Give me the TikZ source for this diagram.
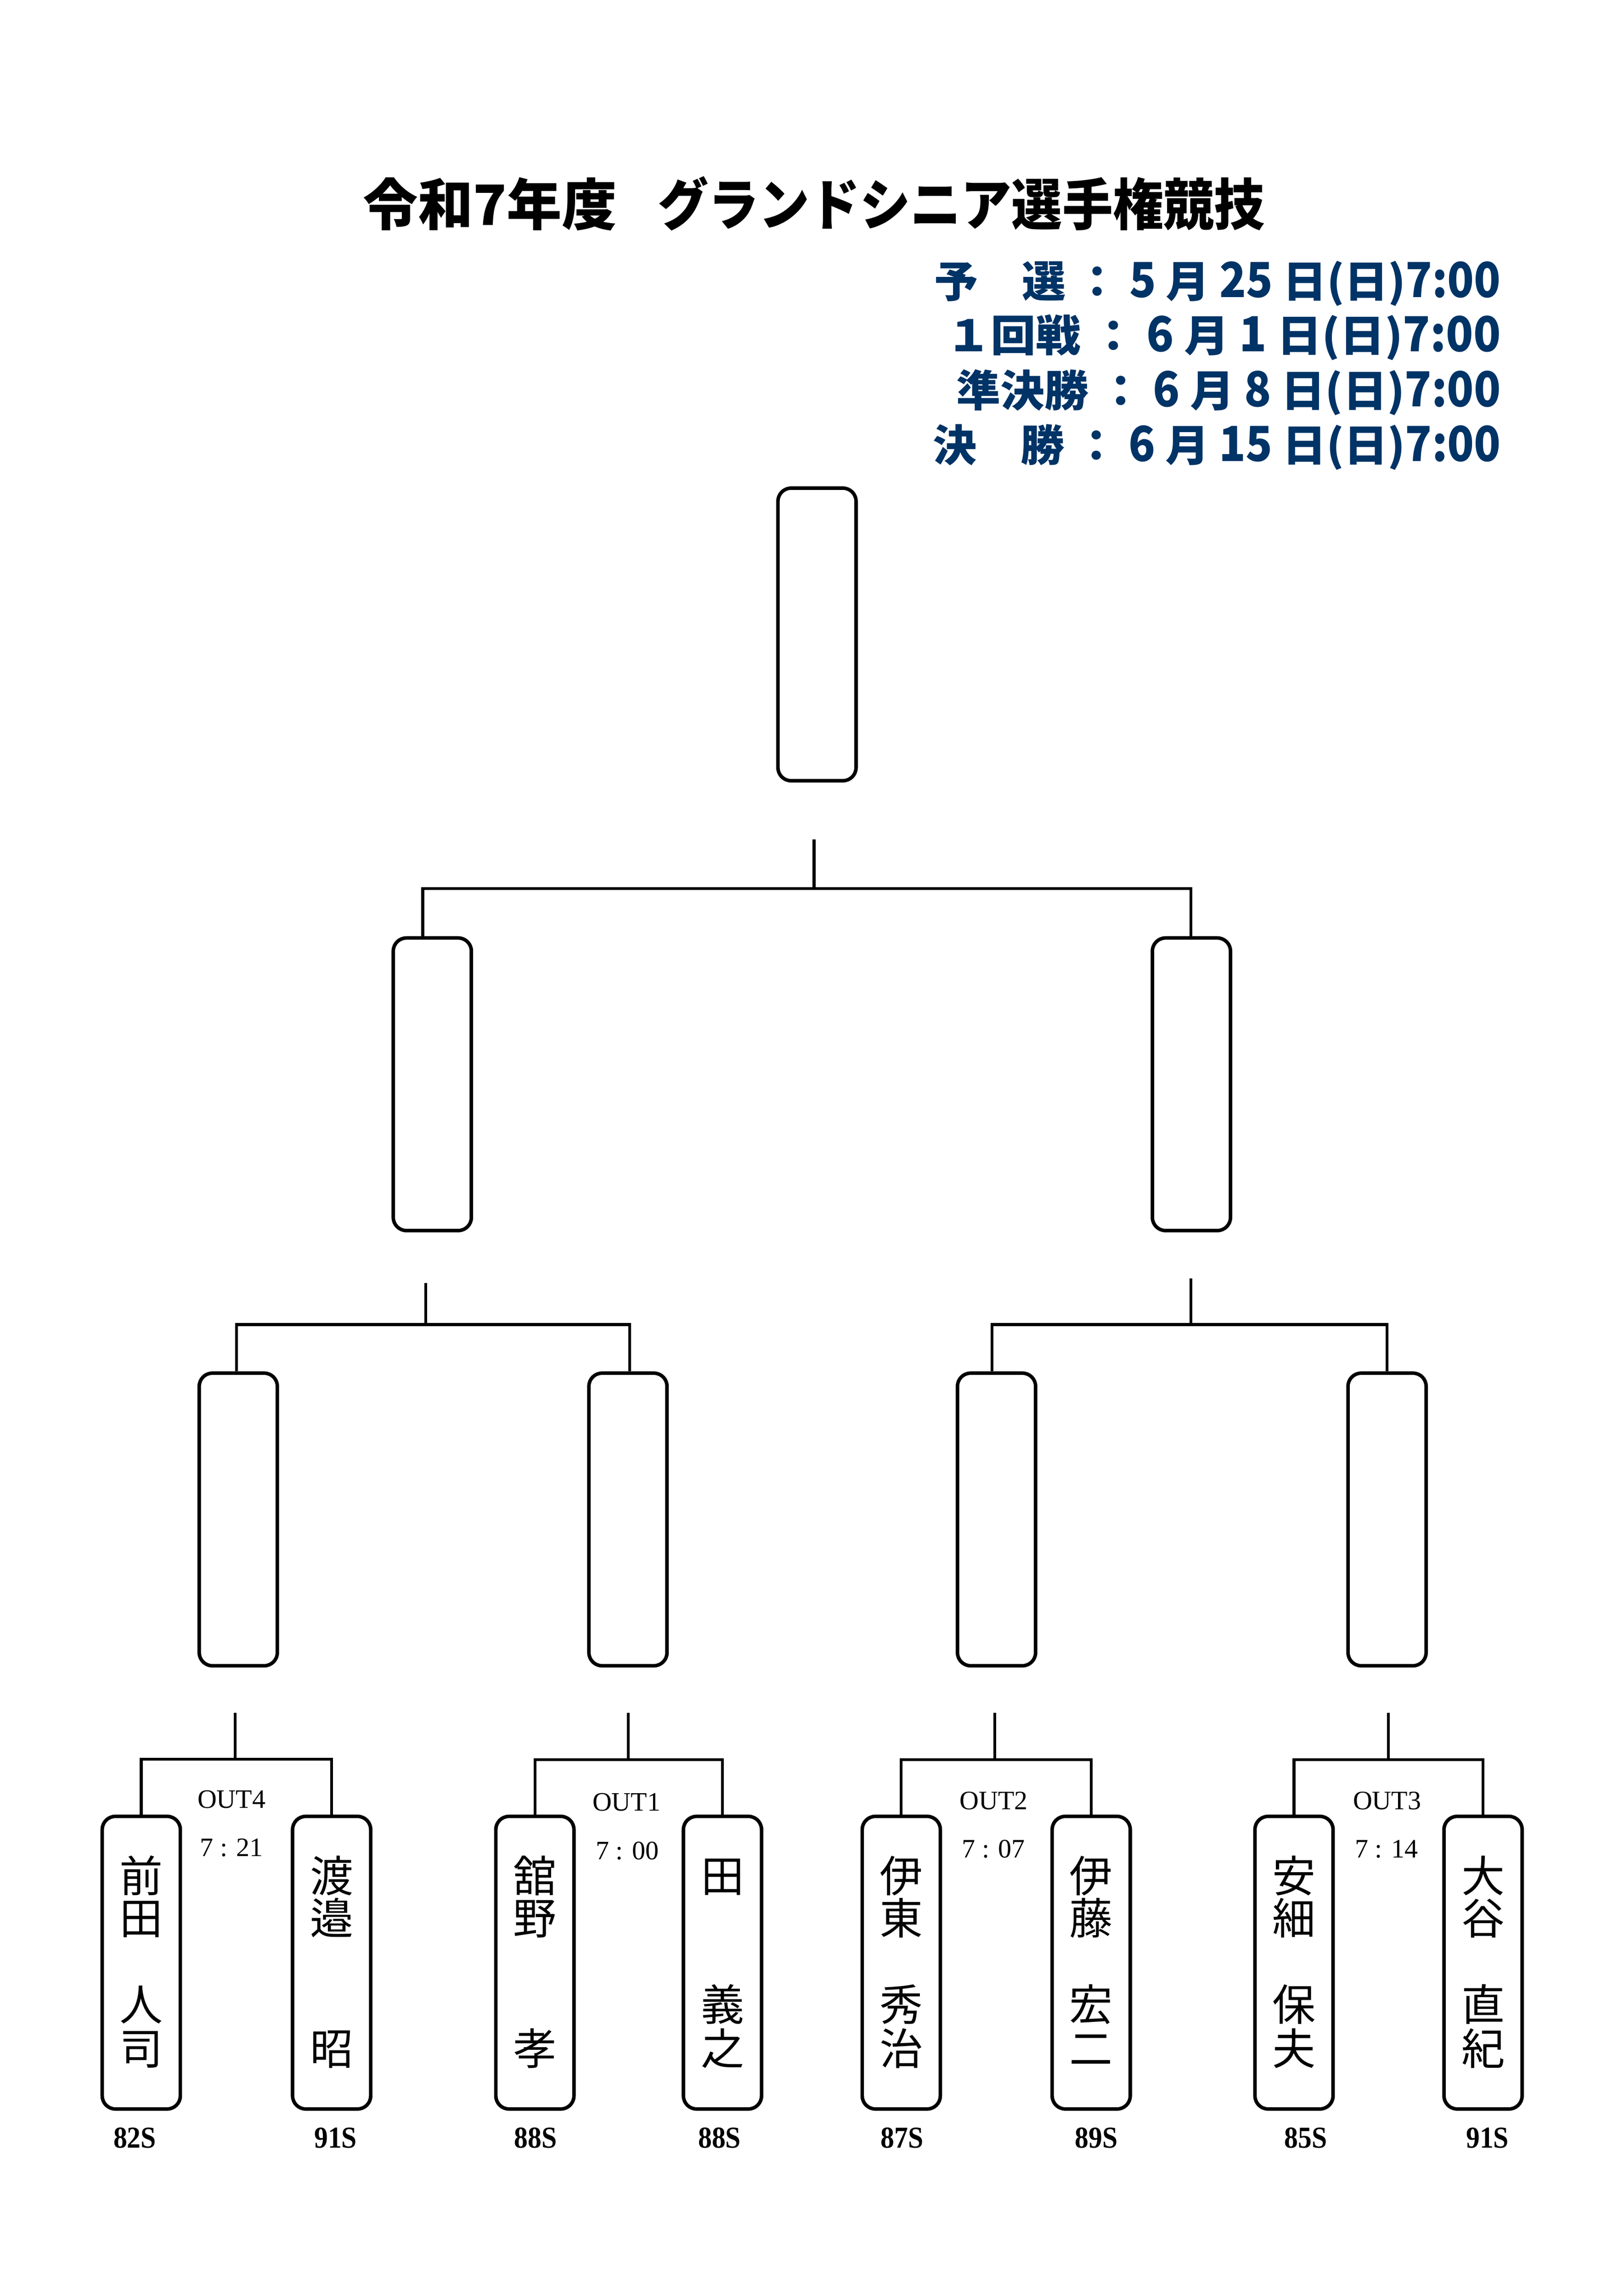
\documentclass[tikz,border=0pt]{standalone}
\usepackage{fontspec}
\usepackage{graphicx}
\setmainfont{Liberation Serif}
\newfontfamily\jp{Noto Sans CJK JP}
\definecolor{navy}{RGB}{0,51,102}
\newcommand\tl[1]{\scalebox{1}[1.12]{#1}}
\begin{document}
\begin{tikzpicture}[x=0.189531mm,y=-0.189531mm,
  box/.style={draw, line width=1.3pt, rounded corners=1.7mm, minimum width=10.1mm, minimum height=37.85mm, inner sep=0pt},
  conn/.style={line width=1.05pt},
  nm/.style={font=\jp\fontsize{15.9pt}{16pt}\selectfont, inner sep=0pt, text height=14pt, text depth=1.9pt},
  sched/.style={font=\jp\bfseries\fontsize{15.9pt}{16pt}\selectfont, text=navy, inner sep=0pt, anchor=base east},
  ttl/.style={font=\jp\bfseries\fontsize{20.5pt}{22pt}\selectfont, inner sep=0pt, anchor=base west},
  outl/.style={font=\fontsize{9.8pt}{10pt}\selectfont, inner sep=0pt, anchor=base},
  score/.style={font=\bfseries\fontsize{11.2pt}{12pt}\selectfont, inner sep=0pt, anchor=base}]
\useasboundingbox (0,0) rectangle (1108,1567);

% title
\node[ttl] (t1) at (247.5,153.8) {\resizebox{32.79mm}{\height}{令和7年度}};
\node[ttl] (t2) at (448.5,153.8) {\resizebox{78.47mm}{\height}{グランドシニア選手権競技}};

% schedule
\node[sched] (s1) at (1024.5,203) {\resizebox{73.25mm}{\height}{予　選 ： \tl{5} 月 \tl{25} 日(日)\tl{7:00}}};
\node[sched] (s2) at (1024.5,240) {\resizebox{71.74mm}{\height}{１回戦 ： \tl{6} 月 \tl{1} 日(日)\tl{7:00}}};
\node[sched] (s3) at (1024.5,277.5) {\resizebox{70.41mm}{\height}{準決勝 ： \tl{6} 月 \tl{8} 日(日)\tl{7:00}}};
\node[sched] (s4) at (1024.5,314.7) {\resizebox{73.44mm}{\height}{決　勝 ： \tl{6} 月 \tl{15} 日(日)\tl{7:00}}};

% boxes
\node[box] (F) at (557.5,433) {};
\node[box] (SL) at (295,740) {};
\node[box] (SR) at (813,740) {};
\node[box] (Q1) at (162.6,1037) {};
\node[box] (Q2) at (428.5,1037) {};
\node[box] (Q3) at (680,1037) {};
\node[box] (Q4) at (946.5,1037) {};
\node[box] (P1) at (96.4,1339.5) {};
\node[box] (P2) at (226.3,1339.5) {};
\node[box] (P3) at (365,1339.5) {};
\node[box] (P4) at (493,1339.5) {};
\node[box] (P5) at (615,1339.5) {};
\node[box] (P6) at (744.6,1339.5) {};
\node[box] (P7) at (883,1339.5) {};
\node[box] (P8) at (1012,1339.5) {};

% final connector
\coordinate (Fs) at (555.5,573);
\coordinate (Fj) at (555.5,606.5);
\coordinate (FL) at (288.5,606.5);
\coordinate (FR) at (812.7,606.5);
\draw[conn] (Fs) -- (Fj);
\draw[conn] (FL |- SL.north) -- (FL) -- (FR) -- (FR |- SR.north);

% semi connectors
\coordinate (SLs) at (290.6,875.7);
\coordinate (SLj) at (290.6,904);
\coordinate (SLa) at (161.3,904);
\coordinate (SLb) at (429.7,904);
\draw[conn] (SLs) -- (SLj);
\draw[conn] (SLa |- Q1.north) -- (SLa) -- (SLb) -- (SLb |- Q2.north);
\coordinate (SRs) at (812.7,872.6);
\coordinate (SRj) at (812.7,904);
\coordinate (SRa) at (677,904);
\coordinate (SRb) at (946.5,904);
\draw[conn] (SRs) -- (SRj);
\draw[conn] (SRa |- Q3.north) -- (SRa) -- (SRb) -- (SRb |- Q4.north);

% quarter connectors
\coordinate (Q1s) at (160.4,1169);
\coordinate (Q1j) at (160.4,1200.7);
\draw[conn] (Q1s) -- (Q1j);
\draw[conn] (P1.north) -- (P1.north |- Q1j) -- (P2.north |- Q1j) -- (P2.north);
\coordinate (Q2s) at (428.6,1169);
\coordinate (Q2j) at (428.6,1201);
\draw[conn] (Q2s) -- (Q2j);
\draw[conn] (P3.north) -- (P3.north |- Q2j) -- (P4.north |- Q2j) -- (P4.north);
\coordinate (Q3s) at (678.7,1169);
\coordinate (Q3j) at (678.7,1201);
\draw[conn] (Q3s) -- (Q3j);
\draw[conn] (P5.north) -- (P5.north |- Q3j) -- (P6.north |- Q3j) -- (P6.north);
\coordinate (Q4s) at (947.4,1169);
\coordinate (Q4j) at (947.4,1201);
\draw[conn] (Q4s) -- (Q4j);
\draw[conn] (P7.north) -- (P7.north |- Q4j) -- (P8.north |- Q4j) -- (P8.north);

% match labels
\node[outl] (o4) at (158,1234) {OUT4};
\node[outl] (t4) at (158,1267) {7 : 21};
\node[outl] (o1) at (427.5,1236) {OUT1};
\node[outl] (t1x) at (428,1269) {7 : 00};
\node[outl] (o2) at (678,1235) {OUT2};
\node[outl] (t2x) at (678,1268) {7 : 07};
\node[outl] (o3) at (946.5,1235) {OUT3};
\node[outl] (t3x) at (946,1268) {7 : 14};

% names
\foreach \c/\yy [count=\i] in {前/1280,田/1309,人/1368,司/1398} \node[nm] (na\i) at (96.4,\yy) {\c};
\foreach \c/\yy [count=\i] in {渡/1280,邉/1309,昭/1398} \node[nm] (nb\i) at (226.3,\yy) {\c};
\foreach \c/\yy [count=\i] in {舘/1280,野/1309,孝/1398} \node[nm] (nc\i) at (365,\yy) {\c};
\foreach \c/\yy [count=\i] in {田/1280,義/1368,之/1398} \node[nm] (nd\i) at (493,\yy) {\c};
\foreach \c/\yy [count=\i] in {伊/1280,東/1309,秀/1368,治/1398} \node[nm] (ne\i) at (615,\yy) {\c};
\foreach \c/\yy [count=\i] in {伊/1280,藤/1309,宏/1368,二/1398} \node[nm] (nf\i) at (744.6,\yy) {\c};
\foreach \c/\yy [count=\i] in {安/1280,細/1309,保/1368,夫/1398} \node[nm] (ng\i) at (883,\yy) {\c};
\foreach \c/\yy [count=\i] in {大/1280,谷/1309,直/1368,紀/1398} \node[nm] (nh\i) at (1012,\yy) {\c};

% scores
\node[score] (c1) at (92,1466) {\scalebox{0.9}[1]{82S}};
\node[score] (c2) at (229,1466) {\scalebox{0.9}[1]{91S}};
\node[score] (c3) at (365.5,1466) {\scalebox{0.9}[1]{88S}};
\node[score] (c4) at (491,1466) {\scalebox{0.9}[1]{88S}};
\node[score] (c5) at (615.6,1466) {\scalebox{0.9}[1]{87S}};
\node[score] (c6) at (748,1466) {\scalebox{0.9}[1]{89S}};
\node[score] (c7) at (891,1466) {\scalebox{0.9}[1]{85S}};
\node[score] (c8) at (1015,1466) {\scalebox{0.9}[1]{91S}};
\end{tikzpicture}
\end{document}
